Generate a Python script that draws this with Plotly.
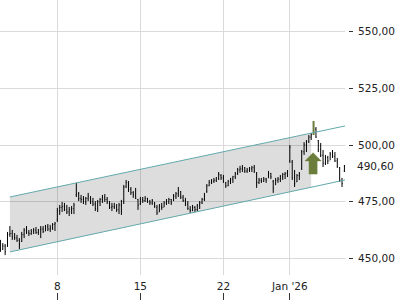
import numpy as np
import plotly.graph_objects as go

# ---------------- data ----------------
first_bar = -24          # bar index of first bar (bar 0 = first bar of Dec 8)
tick_bars = [0, 35, 70, 98]
tick_labels = ["8", "15", "22", "Jan '26"]
y_ticks = [450, 475, 500, 525, 550]
last_price = 490.60

opens = [457.0, 454.0, 455.5, 455.5, 460.5, 461.0, 459.5, 459.0, 458.0, 457.5, 460.5, 462.5,
         461.5, 461.0, 462.0, 462.5, 461.5, 462.5, 463.0, 462.0, 464.0, 463.0, 463.5, 465.0,
         467.0, 471.0, 472.5, 473.0, 471.5, 470.5, 471.5, 472.0, 478.0, 478.5, 476.5, 476.0,
         475.0, 476.5, 476.5, 475.0, 474.0, 472.0, 475.0, 476.0, 477.0, 476.0, 475.0, 472.5,
         473.0, 472.5, 471.5, 473.5, 475.0, 481.5, 483.5, 480.5, 479.0, 478.0, 476.0, 474.0,
         476.0, 475.5, 476.5, 475.0, 474.5, 474.5, 472.5, 470.5, 473.0, 472.5, 474.5, 475.0,
         476.0, 475.5, 477.5, 478.5, 479.5, 477.0, 475.5, 474.0, 471.5, 471.0, 472.5, 471.5,
         473.5, 474.5, 476.0, 479.5, 482.0, 483.5, 484.0, 484.5, 485.5, 486.5, 485.5, 483.5,
         482.0, 484.0, 485.0, 486.0, 487.5, 489.0, 489.5, 490.0, 488.5, 489.0, 489.5, 490.0,
         487.5, 483.5, 484.5, 484.0, 485.0, 485.5, 487.5, 484.0, 482.5, 484.5, 485.0, 486.0,
         487.0, 487.5, 493.0, 492.5, 485.5, 483.8, 486.5, 489.5, 497.0, 500.0, 501.5, 503.5,
         505.0, 507.0, 502.0, 498.0, 495.5, 492.0, 494.5, 493.0, 496.0, 495.0, 493.0, 490.0,
         484.5, 488.5]
highs = [458.2, 456.8, 456.4, 461.7, 464.3, 462.6, 461.2, 460.4, 459.0, 461.7, 463.4, 464.3,
         462.6, 463.0, 463.4, 463.9, 463.0, 464.3, 464.3, 464.8, 465.2, 464.8, 465.6, 466.1,
         472.3, 473.6, 474.9, 474.5, 473.6, 472.7, 473.1, 474.5, 483.3, 479.3, 478.0, 477.5,
         477.1, 478.9, 477.5, 476.7, 475.3, 475.8, 476.7, 478.0, 478.4, 477.1, 475.3, 474.5,
         474.5, 474.0, 474.5, 475.8, 482.4, 484.6, 484.1, 481.5, 479.7, 481.1, 476.2, 477.1,
         477.1, 477.5, 476.7, 475.8, 476.2, 474.9, 473.6, 474.0, 474.5, 475.3, 476.2, 476.7,
         476.2, 478.4, 479.3, 481.5, 479.7, 478.0, 476.7, 475.3, 473.1, 473.6, 473.1, 474.0,
         475.3, 476.7, 478.9, 482.8, 484.6, 485.0, 485.5, 485.9, 488.1, 487.2, 486.8, 483.7,
         484.6, 485.5, 486.4, 488.1, 489.9, 490.8, 491.2, 490.3, 489.9, 490.3, 490.8, 491.2,
         488.1, 485.5, 485.5, 485.9, 485.5, 488.6, 487.7, 484.6, 485.5, 485.9, 486.8, 487.7,
         488.1, 489.0, 500.0, 493.4, 489.0, 487.2, 488.1, 497.8, 501.3, 502.2, 504.4, 505.3,
         510.6, 507.9, 502.2, 500.9, 497.8, 495.6, 495.2, 496.9, 497.8, 496.9, 494.3, 490.3,
         485.5, 491.2]
lows = [452.9, 453.8, 451.5, 455.1, 459.5, 458.2, 458.2, 457.3, 454.2, 457.3, 459.0, 460.8,
        459.9, 460.4, 460.8, 460.8, 460.4, 459.0, 461.2, 462.1, 462.1, 461.7, 462.6, 462.1,
        466.1, 469.2, 470.5, 470.9, 469.6, 468.7, 469.6, 469.6, 477.1, 475.3, 474.5, 474.0,
        473.6, 475.3, 474.0, 473.1, 470.9, 470.5, 473.1, 474.5, 474.9, 474.0, 471.8, 470.9,
        471.8, 470.5, 469.6, 469.2, 474.0, 481.1, 479.3, 478.0, 476.7, 476.2, 471.4, 473.6,
        474.5, 474.9, 474.5, 473.6, 473.6, 472.3, 469.2, 470.5, 471.4, 472.7, 473.6, 474.0,
        473.6, 475.3, 476.2, 477.1, 476.2, 474.9, 473.1, 471.4, 470.1, 470.9, 470.5, 470.9,
        471.8, 474.0, 475.3, 478.9, 481.9, 482.8, 483.3, 483.7, 484.6, 484.6, 483.3, 481.1,
        481.9, 482.8, 483.3, 485.0, 486.8, 487.7, 488.1, 487.7, 487.7, 488.1, 488.1, 487.7,
        481.1, 482.8, 483.3, 483.7, 483.3, 485.5, 485.0, 478.9, 482.4, 483.3, 483.7, 484.6,
        485.0, 485.9, 492.1, 484.6, 481.5, 483.7, 484.6, 489.0, 495.6, 496.9, 500.9, 502.2,
        504.4, 503.1, 496.9, 494.7, 490.3, 491.2, 491.6, 493.4, 494.3, 492.5, 489.9, 483.7,
        481.5, 488.1]
closes = [454.0, 455.5, 453.0, 460.5, 461.0, 459.5, 459.0, 458.0, 456.0, 460.5, 462.5, 461.5,
          461.0, 462.0, 462.5, 461.5, 462.5, 463.0, 462.0, 464.0, 463.0, 463.5, 465.0, 465.5,
          471.0, 472.5, 473.0, 471.5, 470.5, 471.5, 472.0, 473.5, 478.5, 476.5, 476.0, 475.0,
          476.5, 477.5, 475.0, 474.0, 472.0, 475.0, 476.0, 477.0, 476.0, 475.0, 472.5, 473.0,
          472.5, 471.5, 473.5, 471.0, 481.5, 483.5, 480.5, 479.0, 478.0, 476.5, 473.5, 476.0,
          475.5, 476.5, 475.0, 474.5, 475.5, 473.0, 470.0, 473.0, 472.5, 474.5, 475.0, 476.0,
          474.5, 477.5, 478.5, 480.0, 477.0, 475.5, 474.0, 472.0, 471.0, 472.5, 471.5, 473.5,
          474.5, 476.0, 478.5, 482.0, 483.5, 484.0, 484.5, 485.5, 487.0, 485.5, 484.0, 482.0,
          484.0, 485.0, 486.0, 487.5, 489.0, 489.5, 490.0, 488.5, 489.0, 489.5, 490.0, 488.5,
          483.5, 484.5, 484.0, 485.0, 484.5, 487.5, 486.0, 481.0, 484.5, 485.0, 486.0, 487.0,
          487.5, 488.5, 499.0, 485.5, 483.0, 486.5, 487.5, 497.0, 500.0, 501.5, 503.5, 504.5,
          507.0, 503.5, 498.0, 495.5, 492.0, 494.5, 493.0, 496.0, 495.0, 493.0, 490.5, 484.5,
          483.0, 490.6]

signal_bar = 108
channel_x = [-20.0, 121.3]
channel_upper = [477.1, 508.4]
channel_lower = [452.9, 484.6]
channel_fill_end = 107.0

# ---------------- styles ----------------
FONT = "DejaVu Sans"
FS = 10.5
TXT = "#222222"
GRID = "#dadada"
TEAL = "#62a8ad"
OLIVE = "#6b7d3a"

x = np.arange(first_bar, first_bar + len(closes))
o, h, l, c = map(np.array, (opens, highs, lows, closes))
is_sig = x == signal_bar
norm = ~is_sig

fig = go.Figure()

# channel fill
fx = [channel_x[0], channel_fill_end, channel_fill_end, channel_x[0], channel_x[0]]
up_end = float(np.interp(channel_fill_end, channel_x, channel_upper))
lo_end = float(np.interp(channel_fill_end, channel_x, channel_lower))
fy = [channel_upper[0], up_end, lo_end, channel_lower[0], channel_upper[0]]
fig.add_trace(go.Scatter(x=fx, y=fy, fill="toself", fillcolor="rgba(0,0,0,0.135)",
                         line=dict(width=0), mode="lines", hoverinfo="skip"))
# channel lines
for ys in (channel_upper, channel_lower):
    fig.add_trace(go.Scatter(x=channel_x, y=ys, mode="lines",
                             line=dict(color=TEAL, width=1), hoverinfo="skip"))

# price bars
fig.add_trace(go.Ohlc(x=x[norm], open=o[norm], high=h[norm], low=l[norm], close=c[norm],
                      increasing=dict(line=dict(color="#000000", width=1)),
                      decreasing=dict(line=dict(color="#000000", width=1)),
                      tickwidth=0.25, hoverinfo="skip"))
fig.add_trace(go.Ohlc(x=x[is_sig], open=o[is_sig], high=h[is_sig], low=l[is_sig], close=c[is_sig],
                      increasing=dict(line=dict(color=OLIVE, width=2)),
                      decreasing=dict(line=dict(color=OLIVE, width=2)),
                      tickwidth=0.25, hoverinfo="skip"))

# signal arrow (below the signal bar)
ac = signal_bar - 0.2
tip, head, base = 496.6, 493.0, 487.2
hw, sw = 3.4, 1.7
ax = [ac, ac + hw, ac + sw, ac + sw, ac - sw, ac - sw, ac - hw, ac]
ay = [tip, head, head, base, base, head, head, tip]
fig.add_trace(go.Scatter(x=ax, y=ay, fill="toself", fillcolor=OLIVE, mode="lines",
                         line=dict(color=OLIVE, width=0.5), hoverinfo="skip"))

# dummy for tick-mark axis
fig.add_trace(go.Scatter(x=[tick_bars[0]], y=[0.5], xaxis="x2", yaxis="y2", mode="markers",
                         marker=dict(opacity=0), hoverinfo="skip"))

xdom = [0, 345 / 400]
fig.update_layout(
    width=400, height=300, margin=dict(l=0, r=0, t=0, b=0),
    paper_bgcolor="white", plot_bgcolor="white", showlegend=False,
    separators=",.",
    font=dict(family=FONT, size=FS, color=TXT),
    xaxis=dict(domain=xdom, range=[-24.17, 121.25], anchor="y",
               tickvals=tick_bars, ticktext=tick_labels, ticks="",
               showgrid=True, gridcolor=GRID, gridwidth=1, zeroline=False, showline=False,
               rangeslider=dict(visible=False), ticklabelstandoff=3,
               tickfont=dict(family=FONT, size=FS, color=TXT)),
    yaxis=dict(domain=[25 / 300, 1], range=[442.73, 563.88], side="right",
               anchor="free", position=348 / 400, tickvals=y_ticks, tickformat=".2f",
               ticks="outside", ticklen=4, tickwidth=1, tickcolor="#333333",
               showgrid=True, gridcolor=GRID, gridwidth=1, zeroline=False, showline=False,
               ticklabelstandoff=3, tickfont=dict(family=FONT, size=FS, color=TXT)),
    xaxis2=dict(domain=xdom, matches="x", anchor="y2", tickvals=tick_bars,
                showticklabels=False, ticks="inside", ticklen=7, tickwidth=1,
                tickcolor="#333333", showgrid=False, zeroline=False, showline=False),
    yaxis2=dict(domain=[0, 0.02], range=[0, 1], visible=False, anchor="x2"),
    annotations=[dict(x=356 / 400, xref="paper", xanchor="left", y=last_price, yref="y",
                      text=f"{last_price:.2f}".replace(".", ","), showarrow=False,
                      font=dict(family=FONT, size=FS, color=TXT), xshift=-1)],
)

fig.write_html("out.html")
